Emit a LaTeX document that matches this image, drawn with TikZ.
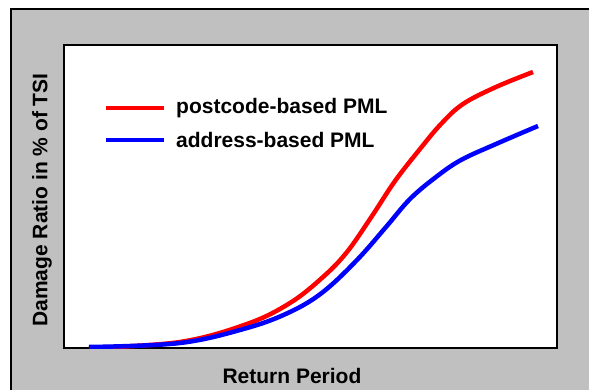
\documentclass[tikz,border=0pt]{standalone}
\usepackage{fontspec}
\setmainfont{Liberation Sans}
\definecolor{bggray}{HTML}{C0C0C0}
\definecolor{pred}{HTML}{FF0000}
\definecolor{pblue}{HTML}{0000FF}
\tikzset{
  lbl/.style={font=\fontsize{21}{25}\selectfont\bfseries, inner sep=0pt},
  curve/.style={line width=4.5pt},
}
\begin{document}
\begin{tikzpicture}[x=1pt,y=-1pt]
\useasboundingbox (0,0) rectangle (589,390);
% outer panel
\fill[white] (0,0) rectangle (589,390);
\fill[bggray] (11,9) rectangle (589,390);
\draw[line width=1.5pt] (11,392) -- (11,9) -- (591,9);
% plot area
\node[draw, line width=1.6pt, fill=white, minimum width=493pt, minimum height=303pt, inner sep=0pt, anchor=north west] (plot) at (63,44) {};
% curves
\begin{scope}
\clip (63,44) rectangle (556,348);
\draw[curve, pred] plot[smooth, tension=0.6] coordinates {(89,348) (180,342) (247,324) (290,303) (323,277) (347,252) (372,216) (395,181) (420,149) (441,124) (463,104) (496,87) (533,72)};
\draw[curve, pblue] plot[smooth, tension=0.6] coordinates {(89,347) (180,343) (247,328) (290,312) (323,292) (357,260) (386,227) (410,199) (436,177) (461,160) (496,144) (538,126)};
\end{scope}
% legend
\coordinate (ra) at (106,108);
\coordinate (rb) at (164,108);
\coordinate (ba) at (106,140);
\coordinate (bb) at (164,140);
\draw[line width=4pt, pred] (ra) -- (rb);
\draw[line width=4pt, pblue] (ba) -- (bb);
\node[lbl, anchor=west] (lr) at (176,108) {postcode-based PML};
\node[lbl, anchor=west] (lb) at (176,140) {address-based PML};
% axis labels
\node[lbl] (xl) at (292,376) {Return Period};
\node[lbl, rotate=90] (yl) at (42,200) {Damage Ratio in \% of TSI};
\end{tikzpicture}
\end{document}
